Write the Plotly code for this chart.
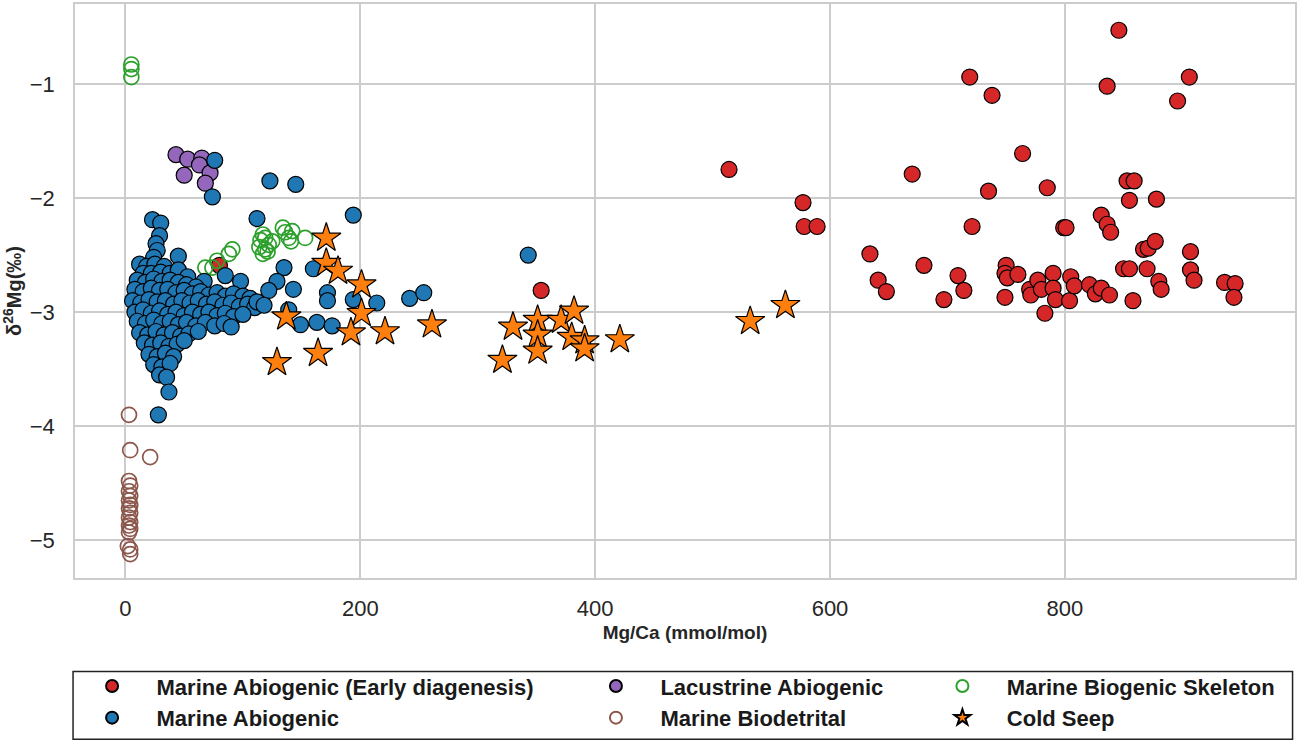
import plotly.graph_objects as go

# Marine Abiogenic (Early diagenesis)
early_x = [514, 577, 578, 589, 634, 641, 648, 670, 680, 697, 709, 714, 719, 721, 735, 738,
           749, 750, 749, 751, 760, 764, 770, 771, 777, 780, 783, 785, 790, 790, 792, 799,
           801, 804, 805, 808, 821, 826, 831, 831, 836, 836, 839, 838, 846, 850, 853, 855,
           855, 859, 858, 867, 870, 871, 877, 878, 880, 882, 896, 906, 907, 907, 910, 936,
           945, 944, 354, 80]
early_y = [-1.75, -2.04, -2.25, -2.25, -2.49, -2.72, -2.82, -1.79, -2.59, -2.89, -2.68, -2.81,
           -0.94, -2.25, -1.94, -1.10, -2.87, -2.59, -2.66, -2.70, -2.67, -1.61, -2.80, -2.85,
           -2.72, -2.80, -3.01, -1.91, -2.66, -2.79, -2.89, -2.26, -2.26, -2.90, -2.69, -2.77,
           -2.76, -2.84, -2.79, -2.15, -1.02, -2.23, -2.30, -2.85, -0.53, -2.62, -1.85, -2.62,
           -2.02, -1.85, -2.90, -2.45, -2.62, -2.44, -2.38, -2.01, -2.73, -2.80, -1.15, -0.94,
           -2.47, -2.63, -2.72, -2.74, -2.75, -2.87, -2.81, -2.59]

# Lacustrine Abiogenic
lac_x = [43, 53, 65, 63, 72, 50, 68]
lac_y = [-1.62, -1.66, -1.65, -1.71, -1.78, -1.80, -1.87]

# Marine Biogenic Skeleton
skel_x = [5, 5, 5, 68, 74, 78, 88, 91, 117, 119, 122, 114, 117, 125, 119, 115, 121,
          134, 136, 139, 142, 141, 153]
skel_y = [-0.83, -0.87, -0.94, -2.61, -2.61, -2.55, -2.49, -2.45, -2.32, -2.35, -2.41, -2.43,
          -2.49, -2.38, -2.45, -2.37, -2.47, -2.26, -2.30, -2.35, -2.29, -2.38, -2.35]

# Marine Abiogenic
abio_x = [23, 30, 29, 26, 27, 24, 45,
          12, 18, 25, 33, 15, 22, 30, 38, 45,
          53, 67, 85, 98,
          10, 17, 24, 31, 38, 45, 52, 60,
          8, 15, 22, 29, 36, 43, 50, 57, 64, 71, 78, 85, 92, 100, 106,
          6, 13, 20, 27, 34, 41, 48, 55, 62, 69, 76, 83, 90, 97, 104, 110,
          8, 15, 22, 29, 36, 43, 50, 57, 64, 71, 78, 85, 92, 100,
          10, 17, 24, 31, 38, 45, 52, 60, 68, 76, 84, 90,
          12, 19, 26, 33, 40, 47, 54, 62,
          16, 23, 30, 37, 44, 50,
          20, 27, 34, 41,
          24, 31, 38,
          29, 35,
          37, 28,
          76, 74, 123, 145, 194, 112, 135, 160, 129, 122, 143, 172, 172, 194, 214,
          112, 118, 139, 149, 163, 176, 242, 254, 343]
abio_y = [-2.19, -2.22, -2.33, -2.40, -2.46, -2.52, -2.51,
          -2.58, -2.60, -2.58, -2.60, -2.66, -2.66, -2.65, -2.66, -2.63,
          -2.69, -2.73, -2.68, -2.73,
          -2.72, -2.74, -2.71, -2.73, -2.72, -2.74, -2.76, -2.78,
          -2.80, -2.82, -2.79, -2.81, -2.80, -2.83, -2.81, -2.84, -2.82, -2.85, -2.83, -2.86,
          -2.84, -2.86, -2.88,
          -2.90, -2.92, -2.89, -2.91, -2.90, -2.93, -2.90, -2.92, -2.90, -2.93, -2.91, -2.94,
          -2.92, -2.95, -2.93, -2.96,
          -3.00, -2.98, -3.01, -2.99, -3.02, -3.00, -3.03, -3.00, -3.02, -3.00, -3.03, -3.01,
          -3.04, -3.02,
          -3.08, -3.10, -3.07, -3.10, -3.08, -3.11, -3.09, -3.12, -3.09, -3.12, -3.10, -3.13,
          -3.18, -3.20, -3.17, -3.20, -3.18, -3.21, -3.19, -3.17,
          -3.27, -3.29, -3.27, -3.30, -3.28, -3.25,
          -3.37, -3.39, -3.36, -3.39,
          -3.46, -3.48, -3.45,
          -3.55, -3.57,
          -3.70, -3.90,
          -1.67, -1.99, -1.85, -1.88, -2.15, -2.18, -2.61, -2.62, -2.73, -2.81, -2.80, -2.83,
          -2.90, -2.89, -2.92,
          -2.91, -2.94, -2.98, -3.11, -3.09, -3.12, -2.88, -2.83, -2.50]

# Marine Biodetrital
biod_x = [3, 4, 21, 3, 4, 3, 4, 3, 4, 3, 4, 3, 4, 3, 4, 3, 2, 4, 4]
biod_y = [-3.90, -4.21, -4.27, -4.48, -4.52, -4.57, -4.61, -4.65, -4.69, -4.72, -4.76,
          -4.80, -4.84, -4.87, -4.90, -4.93, -5.05, -5.08, -5.12]

# Cold Seep
seep_x = [171, 171, 181, 201, 201, 137, 192, 221, 164, 129,
          261, 330, 321, 351, 351, 351, 371, 382, 380, 391, 391, 421, 532, 562]
seep_y = [-2.35, -2.57, -2.64, -2.76, -3.01, -3.04, -3.18, -3.17, -3.36, -3.44,
          -3.11, -3.13, -3.42, -3.07, -3.20, -3.34, -3.07, -2.99, -3.22, -3.25, -3.32, -3.24,
          -3.08, -2.94]

RED = '#d62728'
BLUE = '#1f77b4'
PURPLE = '#9467bd'
GREEN = '#2ca02c'
BROWN = '#8c564b'
ORANGE = '#ff7f0e'

filled = dict(size=16, line=dict(color='black', width=1.2))
hollow = dict(symbol='circle-open', size=15, line=dict(width=1.7))

fig = go.Figure()
fig.add_trace(go.Scatter(x=early_x, y=early_y, mode='markers', name='Marine Abiogenic (Early diagenesis)',
                         marker=dict(color=RED, **filled), legend='legend'))
fig.add_trace(go.Scatter(x=lac_x, y=lac_y, mode='markers', name='Lacustrine Abiogenic',
                         marker=dict(color=PURPLE, **filled), legend='legend2'))
fig.add_trace(go.Scatter(x=skel_x, y=skel_y, mode='markers', name='Marine Biogenic Skeleton',
                         marker=dict(color=GREEN, **hollow), legend='legend3'))
fig.add_trace(go.Scatter(x=abio_x, y=abio_y, mode='markers', name='Marine Abiogenic',
                         marker=dict(color=BLUE, **filled), legend='legend'))
fig.add_trace(go.Scatter(x=biod_x, y=biod_y, mode='markers', name='Marine Biodetrital',
                         marker=dict(color=BROWN, **hollow), legend='legend2'))
fig.add_trace(go.Scatter(x=seep_x, y=seep_y, mode='markers', name='Cold Seep',
                         marker=dict(color=ORANGE, symbol='star', size=22, line=dict(color='black', width=1.2)),
                         legend='legend3'))

# bold legend text, pushed a bit away from the symbol
for tr in fig.data:
    tr.name = '\u00a0\u00a0\u00a0\u00a0<b>' + tr.name + '</b>'

leg = dict(orientation='v', yanchor='top', y=-0.152, xanchor='left', bgcolor='rgba(0,0,0,0)',
           font=dict(family='Liberation Sans, Arial', size=22, color='#1a1a1a'), itemsizing='constant',
           tracegroupgap=0)

fig.update_layout(
    width=1299, height=743,
    margin=dict(l=75, r=2, t=2, b=165),
    paper_bgcolor='white', plot_bgcolor='white',
    font=dict(family='Liberation Sans, Arial', size=22, color='#262626'),
    legend=dict(leg, x=0.014),
    legend2=dict(leg, x=0.427),
    legend3=dict(leg, x=0.711),
    shapes=[dict(type='rect', xref='paper', yref='paper', x0=-0.0016, x1=0.998, y0=-0.281, y1=-0.163,
                 line=dict(color='#222', width=1.5), fillcolor='rgba(0,0,0,0)')],
)
fig.update_xaxes(range=[-43, 996], tickvals=[0, 200, 400, 600, 800], showgrid=True, gridcolor='#cccccc',
                 gridwidth=1.5, zeroline=False, showline=True, linecolor='#cccccc', linewidth=1.5, mirror=True,
                 ticks='', ticklabelstandoff=10,
                 title=dict(text='<b>Mg/Ca (mmol/mol)</b>', font=dict(size=19), standoff=6))
fig.update_yaxes(range=[-5.33, -0.30], tickvals=[-5, -4, -3, -2, -1], showgrid=True, gridcolor='#cccccc',
                 gridwidth=1.5, zeroline=False, showline=True, linecolor='#cccccc', linewidth=1.5, mirror=True,
                 ticks='', ticklabelstandoff=14,
                 title=dict(text='<b>δ<sup>26</sup>Mg(‰)</b>', font=dict(size=20), standoff=8))

# page margin off so the 1299x743 figure sits at the window origin
fig.write_html("out.html", config={'displayModeBar': False},
               post_script="document.body.style.margin='0';document.body.style.overflow='hidden';")
